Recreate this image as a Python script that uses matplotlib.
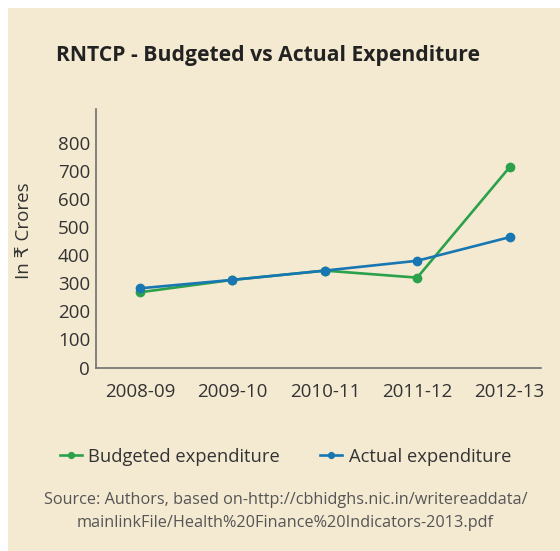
"""
Recreate the RNTCP budgeted vs actual expenditure line chart.
"""

import matplotlib
matplotlib.use("Agg")
import matplotlib.pyplot as plt
from matplotlib.patches import Rectangle

# Data (in Rs crores)
years = ["2008-09", "2009-10", "2010-11", "2011-12", "2012-13"]
budgeted = [268, 312, 345, 320, 713]
actual = [282, 312, 345, 380, 464]

BG = "#f4ead2"
GREEN = "#2ba14b"
BLUE = "#1877b3"
TEXT = "#333333"

plt.rcParams["font.family"] = ["Open Sans", "DejaVu Sans"]

fig = plt.figure(figsize=(5.6, 5.51), dpi=100)
fig.patch.set_facecolor("white")

# beige panel behind everything, leaving a thin white margin top/left
fig.patches.append(Rectangle((8 / 560, 0), 1, 1 - 8 / 551,
                             transform=fig.transFigure,
                             facecolor=BG, edgecolor="none", zorder=-5))

ax = fig.add_axes([0.171, 0.333, 0.795, 0.469])
ax.set_facecolor("none")
ax.set_zorder(2)

x = range(len(years))
ax.plot(x, budgeted, color=GREEN, lw=1.9, marker="o", ms=6,
        label="Budgeted expenditure", zorder=3)
ax.plot(x, actual, color=BLUE, lw=1.9, marker="o", ms=6,
        label="Actual expenditure", zorder=4)

ax.set_xlim(-0.48, 4.34)
ax.set_ylim(0, 920)
ax.set_yticks(range(0, 900, 100))
ax.set_xticks(list(x))
ax.set_xticklabels(years)
ax.tick_params(length=0, labelsize=13.5, colors=TEXT, pad=4)
ax.tick_params(axis="x", pad=11)

for side in ["top", "right"]:
    ax.spines[side].set_visible(False)
for side in ["left", "bottom"]:
    ax.spines[side].set_color("#6f6f6f")
    ax.spines[side].set_linewidth(1.2)

ax.set_ylabel("In \u20b9 Crores", fontsize=13.5, color=TEXT)
ax.yaxis.set_label_coords(-0.141, 0.528)

fig.text(0.478, 0.9, "RNTCP - Budgeted vs Actual Expenditure",
         ha="center", va="center", fontsize=15.2, fontweight="bold",
         color="#222222")

fig.legend(loc="center", bbox_to_anchor=(0.51, 0.171), ncol=2,
           frameon=False, fontsize=13.2, handlelength=1.2,
           handletextpad=0.35, columnspacing=2.2, markerscale=0.7,
           labelcolor=TEXT)

fig.text(0.51, 0.071,
         "Source: Authors, based on-http://cbhidghs.nic.in/writereaddata/\n"
         "mainlinkFile/Health%20Finance%20Indicators-2013.pdf",
         ha="center", va="center", fontsize=11.7, color="#555555",
         linespacing=1.6)

fig.savefig("out.png", dpi=100, facecolor=fig.get_facecolor())
